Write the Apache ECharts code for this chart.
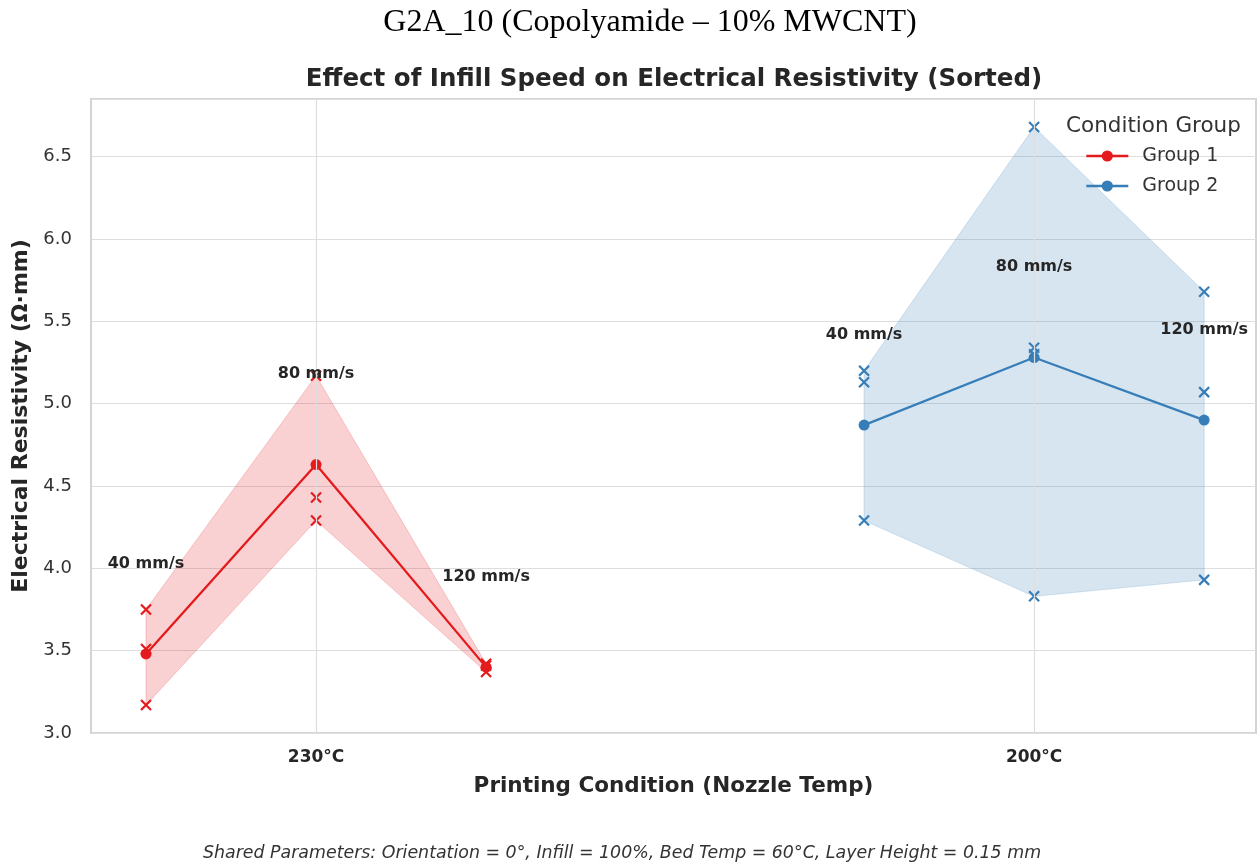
<!DOCTYPE html>
<html>
<head>
<meta charset="utf-8">
<script src="https://cdn.jsdelivr.net/npm/echarts@6/dist/echarts.min.js"></script>
<style>
html,body{margin:0;padding:0;background:#fff;}
#chart{width:1260px;height:864px;}
</style>
</head>
<body>
<div id="chart"></div>
<script>
// ---- data ----
const conditions = ['230°C', '200°C'];
const speeds = ['40 mm/s', '80 mm/s', '120 mm/s'];
// individual measurements (x markers)
const group1Samples = [[3.75, 3.51, 3.17], [5.17, 4.43, 4.29], [3.42, 3.41, 3.37]];
const group2Samples = [[5.20, 5.13, 4.29], [6.68, 5.34, 5.30, 3.83], [5.68, 5.07, 3.93]];
// means (line with dots)
const group1Means = [3.48, 4.63, 3.40];
const group2Means = [4.87, 5.28, 4.90];
const yTicks = [3.0, 3.5, 4.0, 4.5, 5.0, 5.5, 6.0, 6.5];

// ---- layout / style ----
const RED = '#e41a1c', BLUE = '#377eb8';
const OFFSET = 0.2368;          // horizontal spread of speeds around a condition
const LABEL_LIFT = 0.5;         // speed labels placed above the mean
const FONT = 'DejaVu Sans';

function xOf(condIdx, speedIdx) { return condIdx + (speedIdx - 1) * OFFSET; }

function buildGroup(condIdx, samples, means, color, fill, name) {
  const meanData = means.map((m, i) => [xOf(condIdx, i), m]);
  const ptsData = [];
  samples.forEach((arr, i) => arr.forEach(v => ptsData.push([xOf(condIdx, i), v])));
  const bandData = samples.map((arr, i) => [xOf(condIdx, i), Math.min(...arr), Math.max(...arr)]);
  const labelData = means.map((m, i) => ({ value: [xOf(condIdx, i), m + LABEL_LIFT], name: speeds[i] }));
  return [
    {
      type: 'custom', name: name + ' band', z: 1, silent: true,
      data: bandData,
      renderItem: function (params, api) {
        if (params.dataIndex !== 0) return null;
        const top = bandData.map(d => api.coord([d[0], d[2]]));
        const bot = bandData.map(d => api.coord([d[0], d[1]])).reverse();
        return {
          type: 'polygon',
          shape: { points: top.concat(bot) },
          style: { fill: fill, stroke: fill, lineWidth: 1 }
        };
      }
    },
    {
      type: 'scatter', name: name + ' samples', z: 3, silent: true,
      data: ptsData,
      symbol: 'path://M0,0L10,10M10,0L0,10',
      symbolSize: 10,
      itemStyle: { color: 'rgba(0,0,0,0)', borderColor: color, borderWidth: 2.2, opacity: 1 }
    },
    {
      type: 'line', name: name, z: 4, silent: true,
      data: meanData,
      symbol: 'circle', symbolSize: 11, showSymbol: true,
      lineStyle: { color: color, width: 2.3 },
      itemStyle: { color: color }
    },
    {
      type: 'scatter', name: name + ' labels', z: 5, silent: true,
      data: labelData, symbolSize: 0,
      itemStyle: { opacity: 1 },
      label: {
        show: true, position: 'top', distance: 0,
        formatter: p => p.name,
        fontFamily: FONT, fontWeight: 'bold', fontSize: 16, color: '#262626'
      }
    }
  ];
}

const series = []
  .concat(buildGroup(0, group1Samples, group1Means, RED, 'rgba(228,26,28,0.2)', 'Group 1'))
  .concat(buildGroup(1, group2Samples, group2Means, BLUE, 'rgba(55,126,184,0.2)', 'Group 2'));

// vertical grid lines at the condition ticks
series[0].markLine = {
  silent: true, symbol: 'none', label: { show: false },
  lineStyle: { color: '#dedede', width: 1.2, type: 'solid' },
  data: conditions.map((c, i) => ({ xAxis: i }))
};

const chart = echarts.init(document.getElementById('chart'), null, { renderer: 'canvas' });
chart.setOption({
  backgroundColor: '#ffffff',
  animation: false,
  textStyle: { fontFamily: FONT },
  grid: { left: 91, right: 4, top: 99, bottom: 131, show: true, borderColor: '#d4d4d4', borderWidth: 2, backgroundColor: '#fff' },
  xAxis: {
    type: 'value', min: -0.3134, max: 1.309,
    axisLine: { show: false },
    axisTick: { show: false, customValues: conditions.map((c, i) => i) },
    splitLine: { show: false },
    axisLabel: {
      customValues: conditions.map((c, i) => i),
      formatter: v => conditions[Math.round(v)],
      fontFamily: FONT, fontWeight: 'bold', fontSize: 17, color: '#262626', margin: 16
    },
    name: 'Printing Condition (Nozzle Temp)', nameLocation: 'middle', nameGap: 42,
    nameTextStyle: { fontFamily: FONT, fontWeight: 'bold', fontSize: 21.5, color: '#262626' }
  },
  yAxis: {
    type: 'value', min: 3.0, max: 6.85, interval: 0.5,
    axisLine: { show: false }, axisTick: { show: false },
    splitLine: { show: true, lineStyle: { color: '#dedede', width: 1.2 } },
    axisLabel: {
      showMaxLabel: false,
      formatter: v => (yTicks.indexOf(Math.round(v * 10) / 10) >= 0 ? v.toFixed(1) : ''),
      fontFamily: FONT, fontSize: 18, color: '#333', margin: 19
    },
    name: 'Electrical Resistivity (Ω·mm)', nameLocation: 'middle', nameGap: 57,
    nameTextStyle: { fontFamily: FONT, fontWeight: 'bold', fontSize: 22, color: '#262626' }
  },
  legend: {
    data: ['Group 1', 'Group 2'],
    orient: 'vertical', left: 1085, top: 145, padding: 0,
    itemWidth: 42, itemHeight: 14, itemGap: 8,
    lineStyle: { width: 2.6 },
    textStyle: { fontFamily: FONT, fontSize: 19, color: '#333', lineHeight: 22, padding: [0, 0, 0, 9] },
    selectedMode: false
  },
  graphic: [
    { type: 'text', x: 650, y: 23, style: { text: 'G2A_10 (Copolyamide – 10% MWCNT)', font: '32px "Liberation Serif"', fill: '#000', textAlign: 'center', textVerticalAlign: 'middle', verticalAlign: 'middle' } },
    { type: 'text', x: 674, y: 80, style: { text: 'Effect of Infill Speed on Electrical Resistivity (Sorted)', font: 'bold 24.5px "DejaVu Sans"', fill: '#262626', textAlign: 'center', textVerticalAlign: 'middle', verticalAlign: 'middle' } },
    { type: 'text', x: 1066, y: 126, style: { text: 'Condition Group', font: '21.5px "DejaVu Sans"', fill: '#333', textAlign: 'left', textVerticalAlign: 'middle', verticalAlign: 'middle' } },
    { type: 'text', x: 622, y: 853, style: { text: 'Shared Parameters: Orientation = 0°, Infill = 100%, Bed Temp = 60°C, Layer Height = 0.15 mm', font: 'italic 17.4px "DejaVu Sans"', fill: '#333', textAlign: 'center', textVerticalAlign: 'middle', verticalAlign: 'middle' } }
  ],
  series: series
});
</script>
</body>
</html>
